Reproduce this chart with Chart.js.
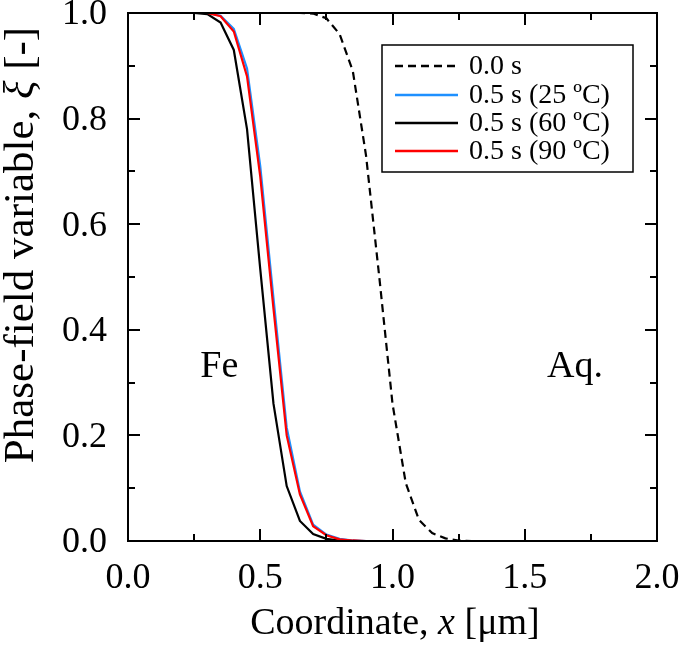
<!DOCTYPE html>
<html>
<head>
<meta charset="utf-8">
<script src="https://cdn.jsdelivr.net/npm/chart.js@4/dist/chart.umd.min.js"></script>
<style>
  html, body { margin: 0; padding: 0; background: #fff; }
  canvas { display: block; }
</style>
</head>
<body>
<canvas id="myChart" width="685" height="647"></canvas>
<script>
// x positions along the coordinate [um]
var xs = [0, 0.05, 0.1, 0.15, 0.2, 0.25, 0.3, 0.35, 0.4, 0.45, 0.5, 0.55, 0.6, 0.65, 0.7,
  0.75, 0.8, 0.85, 0.9, 0.95, 1.0, 1.05, 1.1, 1.15, 1.2, 1.25, 1.3, 1.4, 1.5, 1.6, 1.7, 1.8, 1.9, 2.0];

// phase-field variable for each series
var initial = [1, 1, 1, 1, 1, 1, 1, 1, 1, 1, 1, 1, 1, 1, 0.999,
  0.99, 0.96, 0.89, 0.73, 0.5, 0.26, 0.11, 0.04, 0.015, 0.005, 0.001, 0, 0, 0, 0, 0, 0, 0, 0];
var t25 = [1, 1, 1, 1, 1, 1, 1, 0.995, 0.97, 0.895, 0.71, 0.46, 0.215, 0.094, 0.031,
  0.012, 0.004, 0.001, 0, 0, 0, 0, 0, 0, 0, 0, 0, 0, 0, 0, 0, 0, 0, 0];
var t60 = [1, 1, 1, 1, 1, 1, 0.998, 0.982, 0.93, 0.78, 0.515, 0.26, 0.104, 0.038, 0.013,
  0.004, 0.001, 0, 0, 0, 0, 0, 0, 0, 0, 0, 0, 0, 0, 0, 0, 0, 0, 0];
var t90 = [1, 1, 1, 1, 1, 1, 1, 0.994, 0.965, 0.88, 0.69, 0.44, 0.2, 0.088, 0.028,
  0.011, 0.003, 0.001, 0, 0, 0, 0, 0, 0, 0, 0, 0, 0, 0, 0, 0, 0, 0, 0];

var seriesNames = ["0.0 s", "0.5 s (25 \u00baC)", "0.5 s (60 \u00baC)", "0.5 s (90 \u00baC)"];
var seriesColors = ["#000000", "#1e90ff", "#000000", "#ff0000"];
var seriesDash = [[8, 5], [], [], []];
var seriesData = [initial, t25, t60, t90];

var xTicks = [0, 0.5, 1.0, 1.5, 2.0];
var yTicks = [0, 0.2, 0.4, 0.6, 0.8, 1.0];

var serif = "'Liberation Serif', 'Times New Roman', serif";

function toPoints(ys) {
  return xs.map(function (x, i) { return { x: x, y: ys[i] }; });
}

// draw a line of text made of plain / italic pieces, centred on x
function drawRuns(ctx, runs, x, y, size) {
  var total = 0;
  runs.forEach(function (r) {
    ctx.font = (r.italic ? "italic " : "") + size + "px " + serif;
    r.w = ctx.measureText(r.text).width;
    total += r.w;
  });
  var cx = x - total / 2;
  runs.forEach(function (r) {
    ctx.font = (r.italic ? "italic " : "") + size + "px " + serif;
    ctx.fillText(r.text, cx, y);
    cx += r.w;
  });
}

// frame, inward ticks, titles, labels and legend
var decorations = {
  id: "decorations",
  afterDraw: function (chart) {
    var ctx = chart.ctx;
    var a = chart.chartArea;
    var sx = chart.scales.x;
    var sy = chart.scales.y;
    ctx.save();
    ctx.strokeStyle = "#000";
    ctx.lineWidth = 2;
    ctx.strokeRect(a.left, a.top, a.right - a.left, a.bottom - a.top);

    ctx.beginPath();
    for (var i = 0; i <= 8; i++) {
      var v = i * 0.25;
      var px = Math.round(sx.getPixelForValue(v));
      var len = i % 2 === 0 ? 12 : 7;
      ctx.moveTo(px, a.bottom); ctx.lineTo(px, a.bottom - len);
      ctx.moveTo(px, a.top); ctx.lineTo(px, a.top + len);
    }
    for (var j = 0; j <= 10; j++) {
      var py = Math.round(sy.getPixelForValue(j / 10));
      var l2 = j % 2 === 0 ? 12 : 7;
      ctx.moveTo(a.left, py); ctx.lineTo(a.left + l2, py);
      ctx.moveTo(a.right, py); ctx.lineTo(a.right - l2, py);
    }
    ctx.stroke();

    ctx.fillStyle = "#000";
    ctx.textBaseline = "alphabetic";
    ctx.textAlign = "left";
    drawRuns(ctx, [{ text: "Coordinate, " }, { text: "x", italic: true }, { text: " [\u03bcm]" }],
      395, 634, 38);

    ctx.save();
    ctx.translate(33, 245);
    ctx.rotate(-Math.PI / 2);
    drawRuns(ctx, [{ text: "Phase-field variable, " }, { text: "\u03be", italic: true }, { text: " [-]" }],
      0, 0, 43);
    ctx.restore();

    ctx.font = "38px " + serif;
    ctx.textAlign = "center";
    ctx.fillText("Fe", sx.getPixelForValue(0.345), 377);
    ctx.fillText("Aq.", sx.getPixelForValue(1.69), 377);

    // legend
    ctx.lineWidth = 1.5;
    ctx.strokeRect(382, 45, 251, 127);
    var rows = [66, 95, 123, 151];
    ctx.font = "28px " + serif;
    ctx.textAlign = "left";
    ctx.textBaseline = "middle";
    for (var k = 0; k < seriesNames.length; k++) {
      ctx.beginPath();
      ctx.strokeStyle = seriesColors[k];
      ctx.lineWidth = 2.5;
      ctx.setLineDash(seriesDash[k]);
      ctx.moveTo(395, rows[k]);
      ctx.lineTo(458, rows[k]);
      ctx.stroke();
      ctx.setLineDash([]);
      ctx.fillStyle = "#000";
      ctx.fillText(seriesNames[k], 469, rows[k] + 1);
    }
    ctx.restore();
  }
};

var orders = [4, 3, 2, 1];
var datasets = seriesData.map(function (ys, i) {
  return {
    label: seriesNames[i],
    data: toPoints(ys),
    borderColor: seriesColors[i],
    borderDash: seriesDash[i],
    borderWidth: 2.2,
    pointRadius: 0,
    fill: false,
    tension: 0,
    order: orders[i]
  };
});

var ctx = document.getElementById("myChart").getContext("2d");
var chart = new Chart(ctx, {
  type: "line",
  data: { datasets: datasets },
  options: {
    responsive: false,
    animation: false,
    devicePixelRatio: 1,
    layout: { padding: { top: 13, right: 28, left: 0, bottom: 0 } },
    plugins: { legend: { display: false }, tooltip: { enabled: false } },
    scales: {
      x: {
        type: "linear",
        min: 0,
        max: 2,
        afterFit: function (s) {
          s.height = 106;
          s.paddingLeft = 0;
          s.paddingRight = 0;
        },
        afterBuildTicks: function (s) { s.ticks = xTicks.map(function (v) { return { value: v }; }); },
        grid: { display: false, drawTicks: false },
        border: { display: false },
        ticks: {
          padding: 16,
          color: "#000",
          font: { family: serif, size: 36 },
          maxRotation: 0,
          callback: function (v) { return v.toFixed(1); }
        }
      },
      y: {
        type: "linear",
        min: 0,
        max: 1,
        afterFit: function (s) {
          s.width = 128;
          s.paddingTop = 0;
          s.paddingBottom = 0;
        },
        afterBuildTicks: function (s) { s.ticks = yTicks.map(function (v) { return { value: v }; }); },
        grid: { display: false, drawTicks: false },
        border: { display: false },
        ticks: {
          padding: 21,
          labelOffset: 2,
          color: "#000",
          font: { family: serif, size: 36 },
          callback: function (v) { return v.toFixed(1); }
        }
      }
    }
  },
  plugins: [decorations]
});
</script>
</body>
</html>
